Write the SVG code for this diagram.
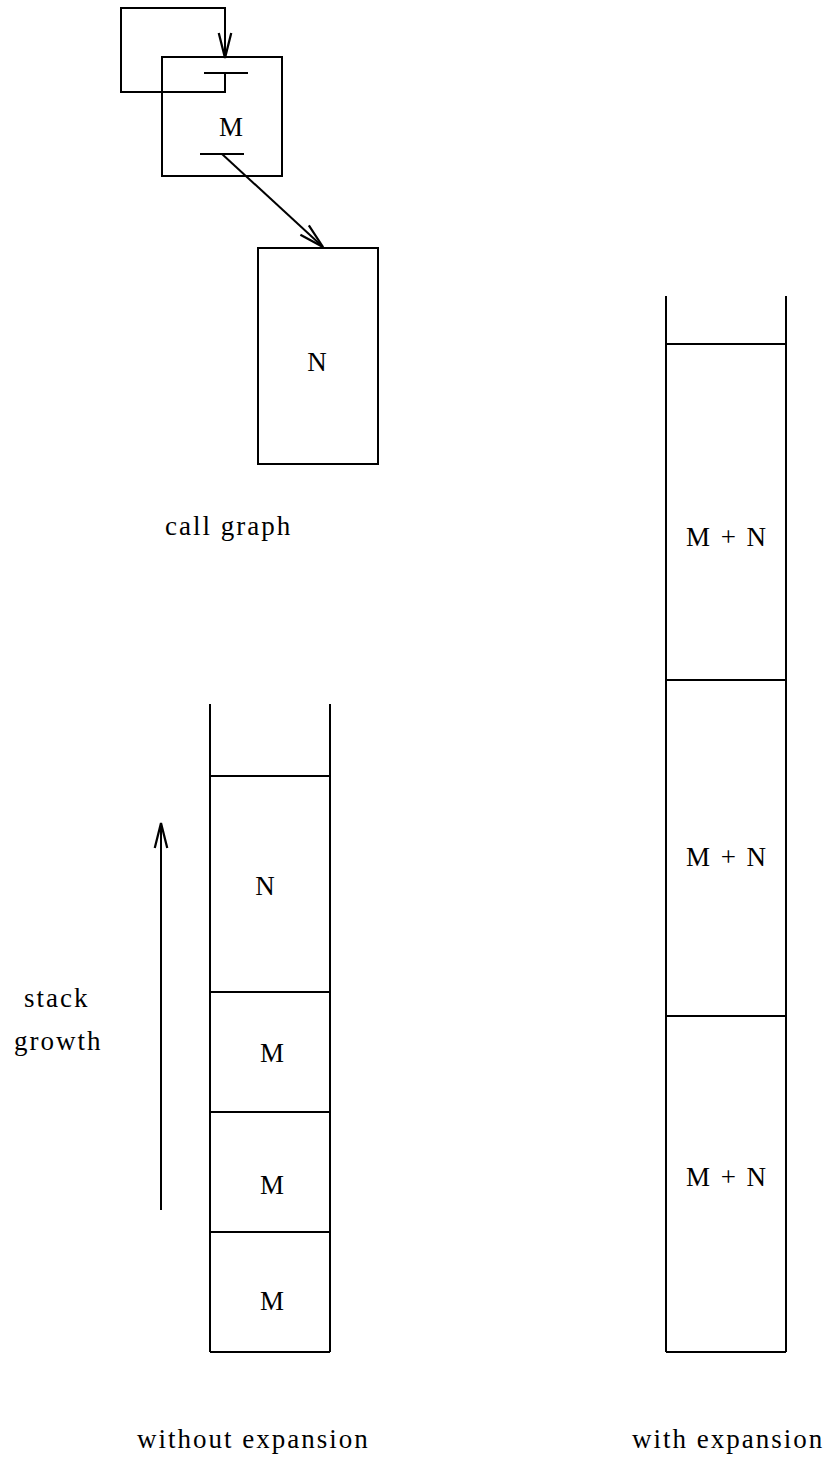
<svg xmlns="http://www.w3.org/2000/svg" width="826" height="1462" viewBox="0 0 826 1462">
<style>
.ln{fill:none;stroke:#000;stroke-width:2}
text{font-family:"Liberation Serif","Times New Roman",serif;font-size:27px;fill:#000;letter-spacing:2px}
.c{text-anchor:middle}
</style>
<defs>
<marker id="ah" markerUnits="userSpaceOnUse" markerWidth="30" markerHeight="20" viewBox="-22 -8 24 16" refX="0" refY="0" orient="auto" overflow="visible">
<path d="M-20,-5 L0,0 L-20,5" fill="none" stroke="#000" stroke-width="1.8"/>
</marker>
</defs>
<rect width="826" height="1462" fill="#fff"/>
<g id="nodeM">
<rect class="ln" x="162" y="57" width="120" height="119"/>
<line class="ln" x1="204" y1="73" x2="248" y2="73"/>
<line class="ln" x1="200" y1="154" x2="244" y2="154"/>
<text class="c" x="232" y="136">M</text>
</g>
<g id="nodeN">
<rect class="ln" x="258" y="248" width="120" height="216"/>
<text class="c" x="318" y="371">N</text>
</g>
<g id="connectors">
<path class="ln" d="M225,73 L225,92 L121,92 L121,8 L225,8 L225,58" marker-end="url(#ah)"/>
<line class="ln" x1="222" y1="154" x2="323" y2="247" marker-end="url(#ah)"/>
<line class="ln" x1="161" y1="1210" x2="161" y2="823" marker-end="url(#ah)"/>
</g>
<text id="lbl-callgraph" x="165" y="535">call graph</text>
<g id="stack-without">
<line class="ln" x1="210" y1="704" x2="210" y2="1352"/>
<line class="ln" x1="330" y1="704" x2="330" y2="1352"/>
<line class="ln" x1="210" y1="776" x2="330" y2="776"/>
<line class="ln" x1="210" y1="992" x2="330" y2="992"/>
<line class="ln" x1="210" y1="1112" x2="330" y2="1112"/>
<line class="ln" x1="210" y1="1232" x2="330" y2="1232"/>
<line class="ln" x1="210" y1="1352" x2="330" y2="1352"/>
<text class="c" x="266" y="895">N</text>
<text class="c" x="273" y="1062">M</text>
<text class="c" x="273" y="1194">M</text>
<text class="c" x="273" y="1310">M</text>
</g>
<g id="stack-with">
<line class="ln" x1="666" y1="296" x2="666" y2="1352"/>
<line class="ln" x1="786" y1="296" x2="786" y2="1352"/>
<line class="ln" x1="666" y1="344" x2="786" y2="344"/>
<line class="ln" x1="666" y1="680" x2="786" y2="680"/>
<line class="ln" x1="666" y1="1016" x2="786" y2="1016"/>
<line class="ln" x1="666" y1="1352" x2="786" y2="1352"/>
<text class="c" x="727" y="546" xml:space="preserve">M + N</text>
<text class="c" x="727" y="866" xml:space="preserve">M + N</text>
<text class="c" x="727" y="1186" xml:space="preserve">M + N</text>
</g>
<text id="lbl-stack" x="24" y="1007">stack</text>
<text id="lbl-growth" x="14" y="1050">growth</text>
<text id="lbl-without" x="137" y="1448">without expansion</text>
<text id="lbl-with" x="632" y="1448">with expansion</text>
</svg>
